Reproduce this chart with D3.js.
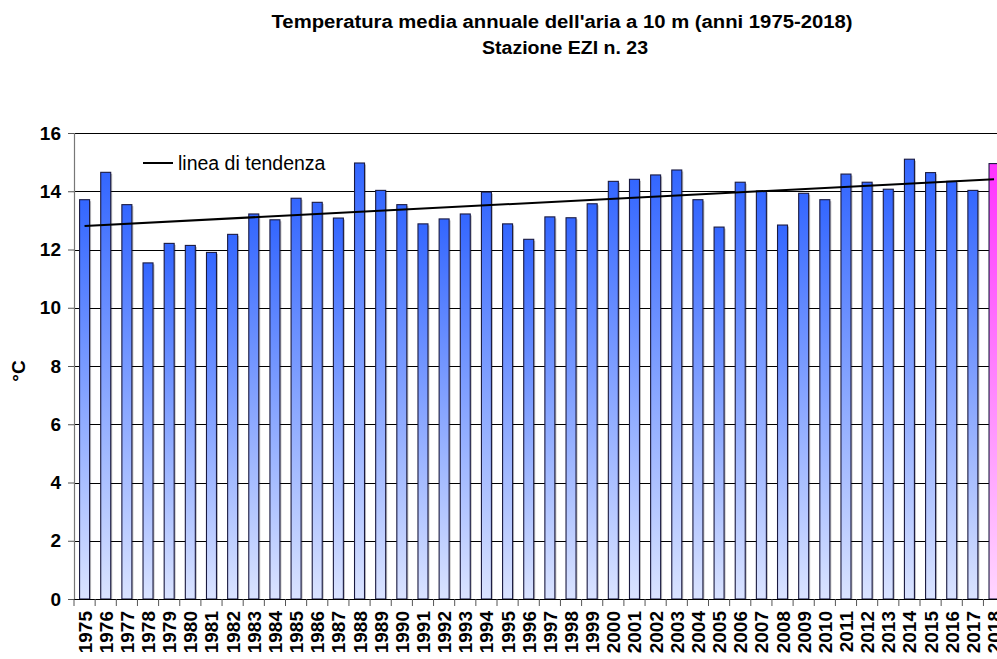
<!DOCTYPE html>
<html>
<head>
<meta charset="utf-8">
<script src="https://cdn.jsdelivr.net/npm/d3@7"></script>
<style>
  html,body{margin:0;padding:0;background:#fff;overflow:hidden;}
  svg{display:block;font-family:"Liberation Sans",Arial,sans-serif;}
</style>
</head>
<body>
<div id="chart"></div>
<script>
const years=d3.range(1975,2019).map(String);
const temps=[13.71,14.65,13.54,11.54,12.21,12.14,11.90,12.52,13.22,13.02,
  13.76,13.62,13.08,14.97,14.03,13.54,12.88,13.05,13.22,13.97,
  12.88,12.35,13.12,13.09,13.57,14.34,14.41,14.56,14.73,13.71,
  12.77,14.31,14.01,12.84,13.93,13.71,14.59,14.31,14.07,15.10,
  14.64,14.34,14.03,14.95];
const yTicks=[0,2,4,6,8,10,12,14,16];
const trendYears=['1975','2018'];
const trendVals=[12.81,14.41];
const highlightYear='2018';

const W=997,H=659,m={l:74,t:133,b:60};
const svg=d3.select('#chart').append('svg').attr('width',W).attr('height',H);
const defs=svg.append('defs');
function grad(id,top,bot){
  const g=defs.append('linearGradient').attr('id',id).attr('x1',0).attr('y1',0).attr('x2',0).attr('y2',1);
  g.append('stop').attr('offset','0%').attr('stop-color',top);
  g.append('stop').attr('offset','100%').attr('stop-color',bot);
}
grad('gBlue','#3366ff','#dae3ff');
grad('gPink','#ff33ff','#ffd6ff');

const x=d3.scaleBand().domain(years).range([m.l,m.l+44*21.15]).padding(0);
const y=d3.scaleLinear().domain([0,16]).range([599,133]);
const bw=10;

// title
svg.append('text').attr('x',562).attr('y',28).attr('text-anchor','middle').attr('font-weight','bold').attr('font-size',18)
  .attr('textLength',581).attr('lengthAdjust','spacingAndGlyphs')
  .text("Temperatura media annuale dell'aria a 10 m (anni 1975-2018)");
svg.append('text').attr('x',565).attr('y',54).attr('text-anchor','middle').attr('font-weight','bold').attr('font-size',18)
  .attr('textLength',166).attr('lengthAdjust','spacingAndGlyphs')
  .text('Stazione EZI n. 23');

// grid
svg.append('g').selectAll('line').data(yTicks.filter(d=>d>0)).join('line')
  .attr('x1',m.l).attr('x2',W).attr('y1',d=>Math.round(y(d))+0.5).attr('y2',d=>Math.round(y(d))+0.5)
  .attr('stroke','#000').attr('stroke-width',1);

// bars
const bars=svg.append('g');
years.forEach((yr,i)=>{
  const cx=x(yr)+x.bandwidth()/2, v=temps[i];
  bars.append('rect').attr('x',cx-bw/2+1.5).attr('y',y(v)+1.5).attr('width',bw).attr('height',y(0)-y(v)-1.5)
    .attr('fill','#000').attr('opacity',0.25);
  bars.append('rect').attr('x',cx-bw/2).attr('y',y(v)).attr('width',bw).attr('height',y(0)-y(v))
    .attr('fill',yr===highlightYear?'url(#gPink)':'url(#gBlue)').attr('stroke','#1a1a40').attr('stroke-width',1.1);
});

// axes
const ya=svg.append('g').attr('transform',`translate(${m.l},0)`)
  .call(d3.axisLeft(y).tickValues(yTicks).tickSize(6).tickPadding(7));
ya.select('.domain').attr('stroke','#777').attr('stroke-width',1.2);
ya.selectAll('.tick line').attr('stroke','#555');
ya.selectAll('text').attr('font-size',19).attr('font-weight','bold').attr('fill','#000').attr('font-family','"Liberation Sans",Arial,sans-serif');

const xg=svg.append('g');
xg.append('line').attr('x1',m.l).attr('x2',W).attr('y1',599.5).attr('y2',599.5).attr('stroke','#000').attr('stroke-width',1.2);
xg.selectAll('.tk').data(years).join('line').attr('class','tk')
  .attr('x1',d=>x(d)).attr('x2',d=>x(d)).attr('y1',599).attr('y2',606).attr('stroke','#555');
xg.selectAll('.lb').data(years).join('text').attr('class','lb')
  .attr('transform',d=>`translate(${x(d)+x.bandwidth()/2+7},611) rotate(-90)`)
  .attr('text-anchor','end').attr('font-size',19).attr('font-weight','bold').text(d=>d);

// y title
svg.append('text').attr('transform','translate(25,371) rotate(-90)').attr('text-anchor','middle')
  .attr('font-size',19).attr('font-weight','bold').text('°C');

// trend line
svg.append('line')
  .attr('x1',x(trendYears[0])+x.bandwidth()/2).attr('y1',y(trendVals[0]))
  .attr('x2',x(trendYears[1])+x.bandwidth()/2).attr('y2',y(trendVals[1]))
  .attr('stroke','#000').attr('stroke-width',2);

// legend
svg.append('line').attr('x1',143).attr('x2',173).attr('y1',163).attr('y2',163).attr('stroke','#000').attr('stroke-width',2);
svg.append('text').attr('x',178).attr('y',169.5).attr('font-size',19.5).text('linea di tendenza');
</script>
</body>
</html>
